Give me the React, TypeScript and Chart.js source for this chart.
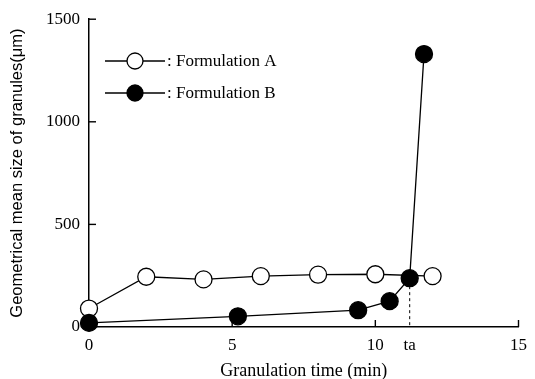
import React, { useEffect, useRef } from "react";
import { Chart, registerables } from "chart.js";

Chart.register(...registerables);

const timeA = [0, 2, 4, 6, 8, 10, 12];
const sizeA = [90, 245, 232, 248, 255, 257, 248];
const timeB = [0, 5.2, 9.4, 10.5, 11.2, 11.7];
const sizeB = [20, 52, 82, 126, 238, 1330];
const xTicks = [0, 5, 10, 15];
const yTicks = [0, 500, 1000, 1500];
const taTime = 11.2;
const taLabel = "ta";
const labelA = ": Formulation A";
const labelB = ": Formulation B";
const xTitle = "Granulation time (min)";
const yTitle = "Geometrical mean size of granules(\u03bcm)";

const serif = "'Liberation Serif', 'Times New Roman', serif";
const sans = "'Liberation Sans', Arial, sans-serif";

const decorPlugin = {
  id: "decor",
  afterDraw(chart: any) {
    const ctx = chart.ctx;
    const xs = chart.scales.x;
    const ys = chart.scales.y;
    const area = chart.chartArea;
    ctx.save();
    ctx.strokeStyle = "#000";
    ctx.lineWidth = 1.4;
    // inward tick marks
    xTicks.forEach((v) => {
      if (v === 0) return;
      const px = xs.getPixelForValue(v);
      ctx.beginPath();
      ctx.moveTo(px, area.bottom);
      ctx.lineTo(px, area.bottom - 7);
      ctx.stroke();
    });
    yTicks.forEach((v) => {
      if (v === 0) return;
      const py = ys.getPixelForValue(v);
      ctx.beginPath();
      ctx.moveTo(area.left, py);
      ctx.lineTo(area.left + 7, py);
      ctx.stroke();
    });
    // dashed line at ta
    const metaB = chart.getDatasetMeta(1);
    const taIdx = timeB.indexOf(taTime);
    if (taIdx >= 0 && metaB.data[taIdx]) {
      const pt = metaB.data[taIdx];
      ctx.setLineDash([3, 3]);
      ctx.lineWidth = 1;
      ctx.beginPath();
      ctx.moveTo(pt.x, pt.y + 8);
      ctx.lineTo(pt.x, area.bottom);
      ctx.stroke();
      ctx.setLineDash([]);
    }
    // legend
    const items = [
      { label: labelA, fill: "#fff", y: 61 },
      { label: labelB, fill: "#000", y: 93 },
    ];
    items.forEach((it) => {
      ctx.lineWidth = 1.3;
      ctx.strokeStyle = "#000";
      ctx.beginPath();
      ctx.moveTo(105, it.y);
      ctx.lineTo(165, it.y);
      ctx.stroke();
      ctx.beginPath();
      ctx.arc(135, it.y, 8, 0, Math.PI * 2);
      ctx.fillStyle = it.fill;
      ctx.fill();
      ctx.stroke();
      ctx.fillStyle = "#000";
      ctx.font = `17px ${serif}`;
      ctx.textAlign = "left";
      ctx.textBaseline = "middle";
      ctx.fillText(it.label, 167, it.y + 1);
    });
    ctx.restore();
  },
};

export default function App() {
  const ref = useRef<HTMLCanvasElement>(null);
  useEffect(() => {
    if (!ref.current) return;
    const chart = new Chart(ref.current, {
      type: "line",
      data: {
        datasets: [
          {
            label: "Formulation A",
            data: timeA.map((t, i) => ({ x: t, y: sizeA[i] })),
            borderColor: "#000",
            borderWidth: 1.3,
            pointRadius: 8.5,
            pointBorderWidth: 1.3,
            pointBackgroundColor: "#fff",
            pointBorderColor: "#000",
            fill: false,
            tension: 0,
            clip: false as any,
            order: 1,
          },
          {
            label: "Formulation B",
            data: timeB.map((t, i) => ({ x: t, y: sizeB[i] })),
            borderColor: "#000",
            borderWidth: 1.3,
            pointRadius: 8.5,
            pointBorderWidth: 1.3,
            pointBackgroundColor: "#000",
            pointBorderColor: "#000",
            fill: false,
            tension: 0,
            clip: false as any,
            order: 0,
          },
        ],
      },
      options: {
        responsive: false,
        animation: false,
        layout: { padding: { top: 18, right: 12, left: 0, bottom: 0 } },
        plugins: {
          legend: { display: false },
          tooltip: { enabled: false },
        },
        scales: {
          x: {
            type: "linear",
            min: 0,
            max: 15,
            afterFit: (s: any) => {
              s.height = 52;
            },
            afterBuildTicks: (s: any) => {
              s.ticks = [...xTicks, taTime].sort((a, b) => a - b).map((v) => ({ value: v }));
            },
            grid: { display: false, drawTicks: false },
            border: { display: true, color: "#000", width: 1.5 },
            ticks: {
              autoSkip: false,
              maxRotation: 0,
              padding: 8,
              color: "#000",
              font: { family: serif, size: 17 },
              callback: (v: any) => (v === taTime ? taLabel : String(v)),
            },
            title: {
              display: true,
              text: xTitle,
              color: "#000",
              font: { family: serif, size: 18, lineHeight: 1 },
              padding: { top: 0, bottom: -1 },
            },
          },
          y: {
            type: "linear",
            min: 0,
            max: 1500,
            afterFit: (s: any) => {
              s.width = 89;
            },
            afterBuildTicks: (s: any) => {
              s.ticks = yTicks.map((v) => ({ value: v }));
            },
            grid: { display: false, drawTicks: false },
            border: { display: true, color: "#000", width: 1.5 },
            ticks: {
              padding: 9,
              color: "#000",
              font: { family: serif, size: 17 },
              callback: (v: any) => String(v),
            },
            title: {
              display: true,
              text: yTitle,
              color: "#000",
              font: { family: sans, size: 16.5 },
              padding: { top: 8, bottom: 0 },
            },
          },
        },
      },
      plugins: [decorPlugin],
    });
    return () => chart.destroy();
  }, []);
  return (
    <div style={{ position: "absolute", left: 0, top: 0, width: 535, height: 379, background: "#fff" }}>
      <canvas ref={ref} width={535} height={379} />
    </div>
  );
}
